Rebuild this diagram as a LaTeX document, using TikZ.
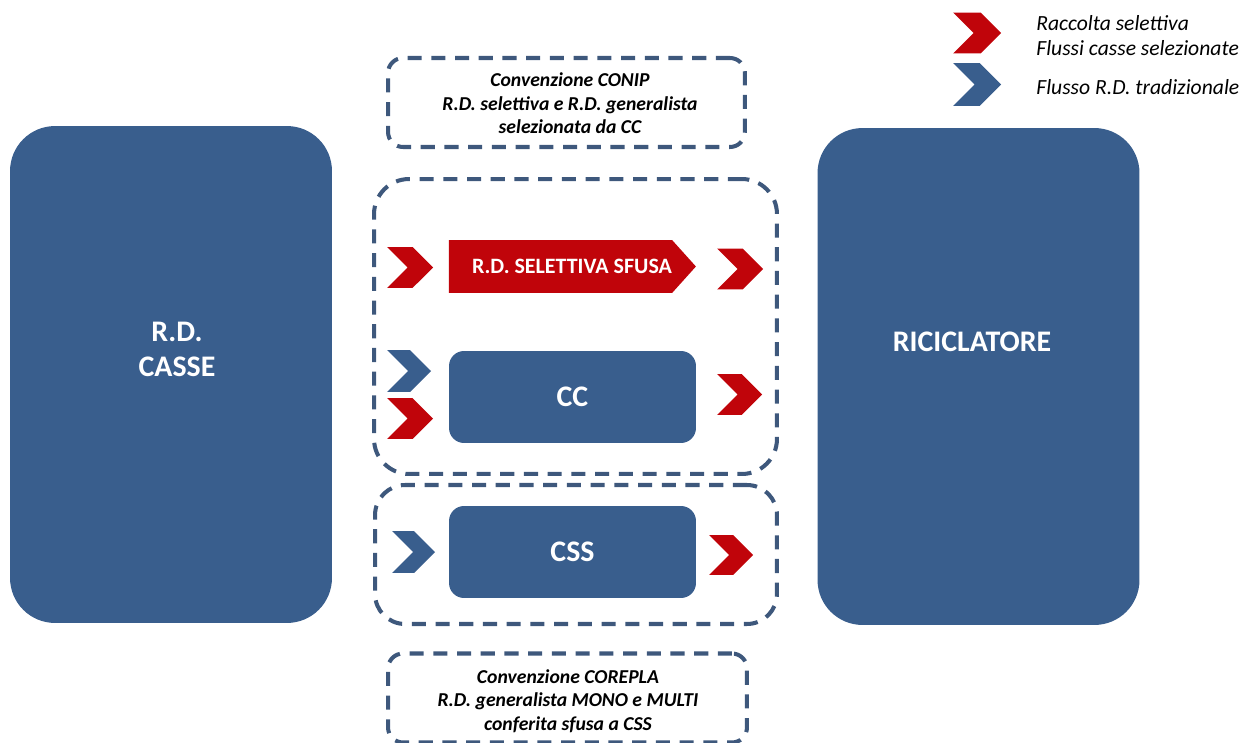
\documentclass[tikz,border=0pt]{standalone}
\usepackage{fontspec}
\setmainfont{Carlito}
\usepackage{tikz}
\usetikzlibrary{shapes.symbols,positioning}
\definecolor{rdBlue}{RGB}{57,94,141}
\definecolor{rdLine}{RGB}{62,88,124}
\definecolor{rdRed}{RGB}{192,4,10}
\tikzset{
    rdBlock/.style={
        rectangle,
        fill=rdBlue,
        inner sep=0pt,
        text=white,
        align=center
    },
    bigBlock/.style={rdBlock, rounded corners=0.9cm, minimum width=6.44cm, minimum height=9.94cm},
    midBlock/.style={rdBlock, rounded corners=0.3cm, minimum width=4.94cm, minimum height=1.84cm,
        font=\bfseries\fontsize{17}{20}\selectfont},
    bigLabel/.style={text=white, align=center, inner sep=0pt, font=\bfseries\fontsize{17}{20}\selectfont},
    % Dashed groups
    dashBox/.style={
        rectangle,
        draw=rdLine,
        line width=2.3pt,
        dash pattern=on 8pt off 5.5pt,
        inner sep=0pt,
        align=center
    },
    noteBox/.style={dashBox, rounded corners=0.3cm, minimum width=7.14cm, minimum height=1.78cm},
    noteText/.style={align=center, inner sep=0pt, font=\bfseries\itshape\fontsize{11.2}{13.4}\selectfont},
    % Flow arrows
    chevron/.style={
        signal,
        signal to=east,
        signal from=west,
        signal pointer angle=90,
        inner sep=0pt,
        minimum width=0.92cm,
        minimum height=0.82cm
    },
    legText/.style={anchor=west, align=left, inner sep=0pt, font=\itshape\fontsize{12.3}{14.2}\selectfont}
}

\begin{document}
\begin{tikzpicture}[
    x=0.02cm, y=-0.02cm,
    chevRed/.style={chevron, fill=rdRed},
    chevBlue/.style={chevron, fill=rdBlue},
    banner/.style={signal, signal to=east, signal pointer angle=96, fill=rdRed,
        inner sep=0pt, minimum width=4.94cm, minimum height=1.06cm},
    bannerText/.style={text=white, inner sep=0pt, font=\bfseries\fontsize{12.5}{14}\selectfont}
]
\useasboundingbox (0,0) rectangle (1244,743);

% Start and end of the chain
\node[bigBlock] (casse) at (171,374.5) {};
\node[bigLabel] (casseText) at (177,349) {R.D.\\CASSE};
\node[bigBlock] (ricicl) at (978.5,376.5) {};
\node[bigLabel] (riciclText) at (972,342) {RICICLATORE};

% Convenzione CONIP
\node[noteBox] (conip) at (566.5,102.5) {};
\node[noteText] (conipText) at (570,103.5) {Convenzione CONIP\\R.D. selettiva e R.D. generalista\\selezionata da CC};
\node[dashBox, rounded corners=0.7cm, minimum width=8.06cm, minimum height=5.9cm] (conipGroup) at (575.5,326.5) {};

\node[banner] (sfusa) at (560.5,266.5) {};
\node[bannerText] (sfusaText) at (572,266.5) {R.D. SELETTIVA SFUSA};
\node[chevRed] (sfusaIn) at (410,267.5) {};
\node[chevRed] (sfusaOut) at (740,269) {};

\node[midBlock] (cc) at (572.5,397) {CC};
\node[chevBlue, minimum width=0.88cm, minimum height=0.84cm] (ccInBlue) at (409,371) {};
\node[chevRed] (ccInRed) at (410,418.5) {};
\node[chevRed, minimum width=0.9cm] (ccOut) at (739.5,394.5) {};

% Convenzione COREPLA
\node[dashBox, rounded corners=0.6cm, minimum width=8.04cm, minimum height=2.78cm] (cssGroup) at (576,554.5) {};
\node[midBlock] (css) at (572.5,552) {CSS};
\node[chevBlue, minimum width=0.86cm, minimum height=0.84cm] (cssIn) at (413.5,552) {};
\node[chevRed, minimum width=0.88cm, minimum height=0.8cm] (cssOut) at (731,555) {};

\node[noteBox, minimum width=7.18cm] (corepla) at (567.5,698) {};
\node[noteText] (coreplaText) at (568,701) {Convenzione COREPLA\\R.D. generalista MONO e MULTI\\conferita sfusa a CSS};

% Legend
\node[chevRed, minimum width=0.96cm] (legRed) at (977,33) {};
\node[chevBlue, minimum width=0.96cm, minimum height=0.86cm] (legBlue) at (977,84.5) {};
\node[legText] (legRedText) at (1036,35.5) {Raccolta selettiva\\Flussi casse selezionate};
\node[legText] (legBlueText) at (1036,87) {Flusso R.D. tradizionale};
\end{tikzpicture}
\end{document}
